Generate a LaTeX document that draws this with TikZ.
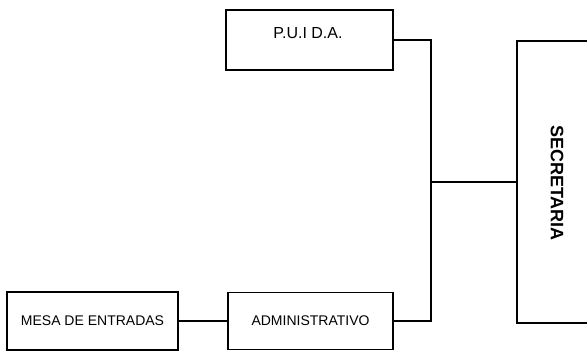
\documentclass[tikz,border=0pt]{standalone}
\usepackage{fontspec}
\setmainfont{Liberation Sans}
\begin{document}
\begin{tikzpicture}[x=1pt,y=-1pt,
  box/.style={draw=black, line width=1.5pt, rectangle, inner sep=0pt},
  conn/.style={draw=black, line width=1.1pt},
  lbl/.style={inner sep=0pt, font=\fontsize{14}{16}\selectfont},
  biglbl/.style={inner sep=0pt, font=\fontsize{18}{20}\selectfont\bfseries}]
\useasboundingbox (0,0) rectangle (587,351);
\node[box, minimum width=167pt, minimum height=60pt] (puida) at (309.5,40) {};
\node[lbl, font=\fontsize{16}{18}\selectfont] (puidat) at (308,33) {P.U.I D.A.};
\node[box, lbl, minimum width=171pt, minimum height=58pt] (mesa) at (92.5,321) {MESA DE ENTRADAS};
\node[box, lbl, minimum width=165pt, minimum height=57pt] (admin) at (310.5,321) {ADMINISTRATIVO};
\node[box, minimum width=80pt, minimum height=282pt] (secretaria) at (557,182) {};
\node[biglbl, rotate=-90] (secretariat) at (557,183) {SECRETARIA};
\coordinate (bus) at (431,182);
\draw[conn] (puida.east) -| (bus) |- (admin.east);
\draw[conn] (bus) -- (secretaria.west);
\draw[conn] (mesa.east) -- (admin.west);
\end{tikzpicture}
\end{document}
